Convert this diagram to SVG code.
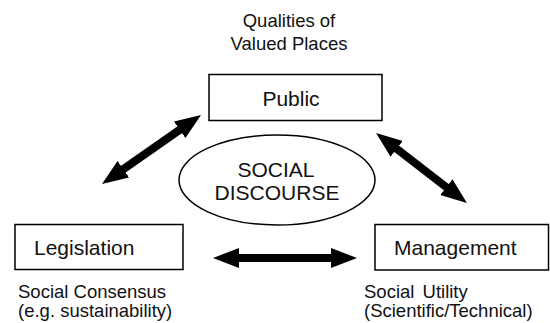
<svg xmlns="http://www.w3.org/2000/svg" width="550" height="323" viewBox="0 0 550 323">
  <style>
    .box { fill: #ffffff; stroke: #000000; stroke-width: 1.5; }
    .lbl { font-family: "Liberation Sans", Arial, sans-serif; font-size: 21px; fill: #111111; }
    .sm { font-family: "Liberation Sans", Arial, sans-serif; font-size: 18.5px; fill: #111111; }
    .arr { stroke: #000000; stroke-width: 8; fill: none; marker-start: url(#head); marker-end: url(#head); }
  </style>
  <defs>
    <marker id="head" markerUnits="userSpaceOnUse" markerWidth="26" markerHeight="20" viewBox="0 0 26 20" refX="6" refY="10" orient="auto-start-reverse">
      <path d="M0,0 L26,10 L0,20 z" fill="#000000"/>
    </marker>
  </defs>
  <rect width="550" height="323" fill="#ffffff"/>

  <g id="connectors">
    <line class="arr" x1="118.4" y1="172.6" x2="184.6" y2="126.4"/>
    <line class="arr" x1="391.9" y1="145.2" x2="451.1" y2="190.8"/>
    <line class="arr" x1="233" y1="258" x2="337" y2="258"/>
  </g>

  <g id="qualities">
    <text class="sm" x="289" y="27" text-anchor="middle">Qualities of</text>
    <text class="sm" x="289" y="50" text-anchor="middle">Valued Places</text>
  </g>

  <g id="public">
    <rect class="box" x="209" y="74.5" width="173" height="46"/>
    <text class="lbl" x="291" y="106" text-anchor="middle">Public</text>
  </g>

  <g id="discourse">
    <ellipse cx="277" cy="180" rx="98" ry="45" fill="#ffffff" stroke="#000000" stroke-width="1.5"/>
    <text class="lbl" x="276" y="177" text-anchor="middle">SOCIAL</text>
    <text class="lbl" x="277" y="200" text-anchor="middle">DISCOURSE</text>
  </g>

  <g id="legislation">
    <rect class="box" x="15" y="224.5" width="168" height="45"/>
    <text class="lbl" x="34" y="255">Legislation</text>
    <text class="sm" x="18" y="298">Social Consensus</text>
    <text class="sm" x="18" y="317">(e.g. sustainability)</text>
  </g>

  <g id="management">
    <rect class="box" x="375" y="224.5" width="173.5" height="45.5"/>
    <text class="lbl" x="394" y="255">Management</text>
    <text class="sm" x="364" y="298" word-spacing="3">Social Utility</text>
    <text class="sm" x="364" y="317">(Scientific/Technical)</text>
  </g>
</svg>
